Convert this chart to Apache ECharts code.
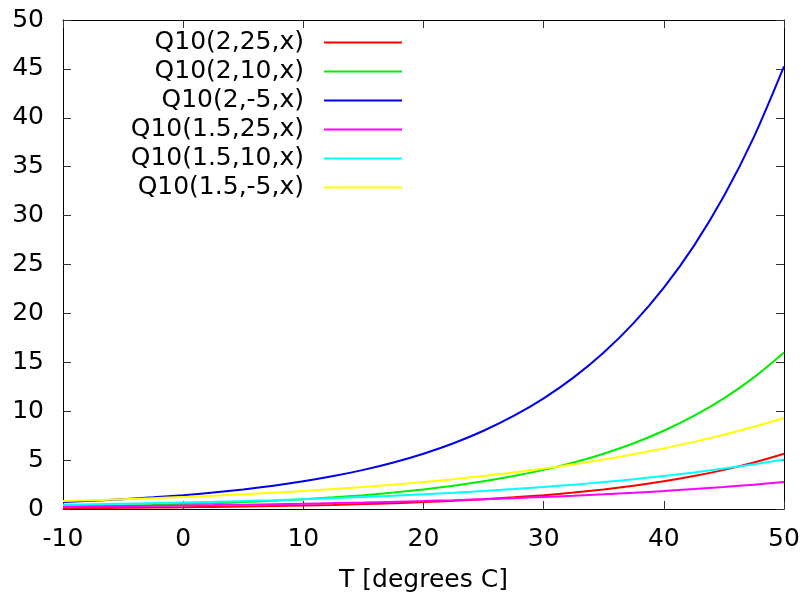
<!DOCTYPE html>
<html>
<head>
<meta charset="utf-8">
<script src="https://cdn.jsdelivr.net/npm/echarts@6/dist/echarts.min.js"></script>
<style>html,body{margin:0;padding:0;background:#fff}#c{width:807px;height:601px}</style>
</head>
<body>
<div id="c"></div>
<script>
var temps = [-10, -7.5, -5, -2.5, 0, 2.5, 5, 7.5, 10, 12.5, 15, 17.5, 20, 22.5, 25, 27.5, 30, 32.5, 35, 37.5, 40, 42.5, 45, 47.5, 50];
var seriesNames = ['Q10(2,25,x)', 'Q10(2,10,x)', 'Q10(2,-5,x)', 'Q10(1.5,25,x)', 'Q10(1.5,10,x)', 'Q10(1.5,-5,x)'];
var q2_25  = [0.0884, 0.1051, 0.125, 0.1487, 0.1768, 0.2102, 0.25, 0.2973, 0.3536, 0.4204, 0.5, 0.5946, 0.7071, 0.8409, 1, 1.1892, 1.4142, 1.6818, 2, 2.3784, 2.8284, 3.3636, 4, 4.7568, 5.6569];
var q2_10  = [0.25, 0.2973, 0.3536, 0.4204, 0.5, 0.5946, 0.7071, 0.8409, 1, 1.1892, 1.4142, 1.6818, 2, 2.3784, 2.8284, 3.3636, 4, 4.7568, 5.6569, 6.7272, 8, 9.5137, 11.3137, 13.4543, 16];
var q2_m5  = [0.7071, 0.8409, 1, 1.1892, 1.4142, 1.6818, 2, 2.3784, 2.8284, 3.3636, 4, 4.7568, 5.6569, 6.7272, 8, 9.5137, 11.3137, 13.4543, 16, 19.0273, 22.6274, 26.9087, 32, 38.0546, 45.2548];
var q15_25 = [0.2420, 0.2677, 0.2963, 0.3279, 0.3629, 0.4016, 0.4444, 0.4919, 0.5443, 0.6024, 0.6667, 0.7378, 0.8165, 0.9036, 1, 1.1067, 1.2247, 1.3554, 1.5, 1.6601, 1.8371, 2.0331, 2.25, 2.4901, 2.7557];
var q15_10 = [0.4444, 0.4919, 0.5443, 0.6024, 0.6667, 0.7378, 0.8165, 0.9036, 1, 1.1067, 1.2247, 1.3554, 1.5, 1.6601, 1.8371, 2.0331, 2.25, 2.4901, 2.7557, 3.0497, 3.375, 3.7351, 4.1335, 4.5745, 5.0625];
var q15_m5 = [0.8165, 0.9036, 1, 1.1067, 1.2247, 1.3554, 1.5, 1.6601, 1.8371, 2.0331, 2.25, 2.4901, 2.7557, 3.0497, 3.375, 3.7351, 4.1335, 4.5745, 5.0625, 5.6027, 6.2003, 6.8618, 7.5938, 8.4041, 9.3004];
var xTicks = [-10, 0, 10, 20, 30, 40, 50];
var yTicks = [0, 5, 10, 15, 20, 25, 30, 35, 40, 45, 50];

var allValues = [q2_25, q2_10, q2_m5, q15_25, q15_10, q15_m5];
var colors = ['#ff0000', '#00ee00', '#0000ee', '#ff00ff', '#00ffff', '#ffff00'];
var FONT = 'DejaVu Sans';
var FS = 25;

function pairs(vals) { return temps.map(function (t, i) { return [t, vals[i]]; }); }

var series = allValues.map(function (vals, i) {
  return {
    name: seriesNames[i], type: 'line', data: pairs(vals), smooth: 0.3,
    showSymbol: false, symbol: 'none', xAxisIndex: 0, yAxisIndex: 0,
    lineStyle: { color: colors[i], width: 2 }, itemStyle: { color: colors[i] },
    animation: false
  };
});

function axisBase(extra) {
  var base = {
    axisLine: { show: true, onZero: false, lineStyle: { color: '#000', width: 1 } },
    axisTick: { show: true, inside: true, length: 8, lineStyle: { color: '#333', width: 1 } },
    splitLine: { show: false },
    axisLabel: { show: false }
  };
  for (var k in extra) base[k] = extra[k];
  return base;
}

var chart = echarts.init(document.getElementById('c'), null, { renderer: 'canvas' });
chart.setOption({
  animation: false,
  backgroundColor: '#fff',
  grid: { left: 63, top: 20, right: 23, bottom: 92, containLabel: false },
  legend: {
    orient: 'vertical', right: 405, top: 28, padding: 0, itemGap: 0,
    align: 'right', icon: 'rect', itemWidth: 78, itemHeight: 2,
    selectedMode: false,
    data: seriesNames,
    textStyle: { fontFamily: FONT, fontSize: FS, color: '#000', lineHeight: 29, padding: [0, 15, 0, 0] }
  },
  xAxis: [
    axisBase({
      type: 'value', position: 'bottom', min: -10, max: 50, interval: 10,
      name: 'T [degrees C]', nameLocation: 'middle', nameGap: 59,
      nameTextStyle: { fontFamily: FONT, fontSize: FS, color: '#000' },
      axisLabel: { show: true, margin: 18, fontFamily: FONT, fontSize: FS, color: '#000',
        formatter: function (v) { return xTicks.indexOf(v) >= 0 ? String(v) : ''; } }
    }),
    axisBase({ type: 'value', position: 'top', min: -10, max: 50, interval: 10 })
  ],
  yAxis: [
    axisBase({
      type: 'value', position: 'left', min: 0, max: 50, interval: 5,
      axisLabel: { show: true, margin: 19, fontFamily: FONT, fontSize: FS, color: '#000',
        formatter: function (v) { return yTicks.indexOf(v) >= 0 ? String(v) : ''; } }
    }),
    axisBase({ type: 'value', position: 'right', min: 0, max: 50, interval: 5 })
  ],
  series: series
});
</script>
</body>
</html>
